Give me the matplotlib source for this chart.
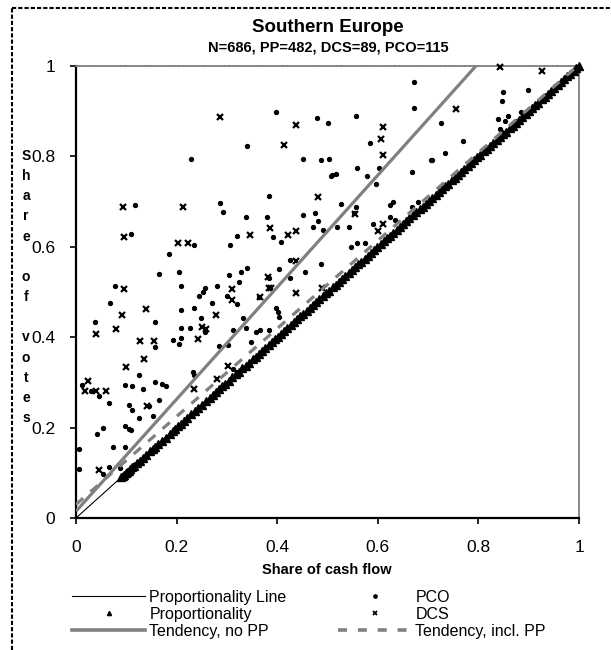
import numpy as np
import matplotlib
matplotlib.use('Agg')
import matplotlib.pyplot as plt
from matplotlib.lines import Line2D

plt.rcParams['font.family'] = ['Liberation Sans', 'DejaVu Sans']

# ---- data ----
title = 'Southern Europe'
subtitle = 'N=686, PP=482, DCS=89, PCO=115'
x_label = 'Share of cash flow'
y_label = 'Share of votes'
tick_vals = [0, 0.2, 0.4, 0.6, 0.8, 1]
tick_labels = ['0', '0.2', '0.4', '0.6', '0.8', '1']

# proportional firms (votes == cash flow)
prop_cf = [0.090, 0.093, 0.096, 0.099, 0.102, 0.105, 0.108, 0.112, 0.116, 0.121,
           0.127, 0.133, 0.140, 0.148, 0.153, 0.157, 0.163, 0.171, 0.178, 0.186,
           0.192, 0.197, 0.203, 0.208, 0.214, 0.221, 0.229, 0.236, 0.243, 0.251,
           0.258, 0.266, 0.272, 0.279, 0.285, 0.291, 0.297, 0.304, 0.311, 0.318,
           0.324, 0.331, 0.337, 0.344, 0.351, 0.357, 0.363, 0.370, 0.376, 0.383,
           0.389, 0.395, 0.401, 0.408, 0.414, 0.420, 0.427, 0.433, 0.440, 0.446,
           0.452, 0.459, 0.465, 0.472, 0.478, 0.484, 0.491, 0.497, 0.503, 0.510,
           0.516, 0.523, 0.529, 0.535, 0.542, 0.548, 0.555, 0.561, 0.567, 0.574,
           0.580, 0.587, 0.593, 0.599, 0.606, 0.612, 0.619, 0.625, 0.631, 0.638,
           0.644, 0.651, 0.657, 0.663, 0.670, 0.676, 0.683, 0.689, 0.695, 0.702,
           0.708, 0.715, 0.721, 0.727, 0.734, 0.740, 0.747, 0.753, 0.759, 0.766,
           0.772, 0.779, 0.785, 0.791, 0.798, 0.804, 0.811, 0.817, 0.823, 0.830,
           0.836, 0.843, 0.849, 0.855, 0.862, 0.868, 0.875, 0.881, 0.887, 0.894,
           0.900, 0.907, 0.913, 0.919, 0.926, 0.932, 0.939, 0.945, 0.951, 0.958,
           0.964, 0.971, 0.977, 0.983, 0.990, 0.995, 1.000]
prop_votes = prop_cf

pco_cf = [0.339, 0.229, 0.118, 0.286, 0.293, 0.337, 0.109, 0.234, 0.320, 0.307,
          0.185, 0.165, 0.205, 0.304, 0.328, 0.340, 0.325, 0.078, 0.209, 0.257,
          0.252, 0.244, 0.280, 0.300, 0.320, 0.364, 0.068, 0.209, 0.234, 0.270,
          0.248, 0.332, 0.038, 0.157, 0.209, 0.226, 0.257, 0.312, 0.337, 0.357,
          0.157, 0.193, 0.205, 0.209, 0.284, 0.348, 0.125, 0.011, 0.029, 0.046,
          0.098, 0.111, 0.157, 0.171, 0.179, 0.133, 0.066, 0.106, 0.111, 0.146,
          0.165, 0.153, 0.126, 0.232, 0.235, 0.312, 0.097, 0.106, 0.110, 0.053,
          0.041, 0.073, 0.098, 0.005, 0.005, 0.054, 0.066, 0.088, 0.671, 0.671,
          0.398, 0.556, 0.479, 0.500, 0.726, 0.584, 0.734, 0.452, 0.487, 0.503,
          0.707, 0.559, 0.603, 0.667, 0.507, 0.516, 0.579, 0.596, 0.384, 0.527,
          0.556, 0.631, 0.625, 0.667, 0.849, 0.846, 0.898, 0.838, 0.858, 0.853,
          0.842, 0.884, 0.770, 0.705, 0.552, 0.624, 0.635, 0.591, 0.680, 0.476,
          0.481, 0.452, 0.471, 0.491, 0.519, 0.542, 0.546, 0.559, 0.574, 0.487,
          0.456, 0.380, 0.392, 0.408, 0.426, 0.383, 0.404, 0.426, 0.398, 0.402,
          0.403, 0.365, 0.383, 0.320, 0.303, 0.508]
pco_votes = [0.822, 0.795, 0.692, 0.696, 0.677, 0.665, 0.629, 0.605, 0.625, 0.605,
             0.584, 0.540, 0.545, 0.538, 0.545, 0.554, 0.522, 0.513, 0.513, 0.509,
             0.500, 0.492, 0.513, 0.492, 0.473, 0.490, 0.475, 0.460, 0.464, 0.475,
             0.442, 0.442, 0.434, 0.434, 0.421, 0.421, 0.411, 0.416, 0.421, 0.412,
             0.378, 0.394, 0.384, 0.398, 0.381, 0.389, 0.316, 0.294, 0.282, 0.270,
             0.294, 0.293, 0.301, 0.296, 0.293, 0.286, 0.254, 0.249, 0.239, 0.248,
             0.261, 0.226, 0.221, 0.323, 0.316, 0.329, 0.204, 0.198, 0.195, 0.199,
             0.186, 0.158, 0.158, 0.152, 0.108, 0.097, 0.112, 0.110, 0.964, 0.906,
             0.899, 0.889, 0.886, 0.873, 0.873, 0.829, 0.807, 0.795, 0.792, 0.795,
             0.793, 0.774, 0.774, 0.766, 0.757, 0.761, 0.757, 0.739, 0.712, 0.695,
             0.687, 0.700, 0.692, 0.687, 0.943, 0.923, 0.948, 0.882, 0.890, 0.878,
             0.861, 0.899, 0.833, 0.792, 0.674, 0.667, 0.659, 0.650, 0.700, 0.674,
             0.656, 0.670, 0.643, 0.637, 0.644, 0.644, 0.600, 0.608, 0.609, 0.563,
             0.545, 0.667, 0.621, 0.611, 0.571, 0.531, 0.550, 0.530, 0.464, 0.456,
             0.444, 0.416, 0.416, 0.322, 0.383, 0.759]

dcs_cf = [0.287, 0.094, 0.212, 0.096, 0.203, 0.223, 0.346, 0.095, 0.310, 0.311,
          0.139, 0.091, 0.278, 0.039, 0.080, 0.251, 0.258, 0.127, 0.156, 0.243,
          0.135, 0.099, 0.023, 0.018, 0.040, 0.059, 0.142, 0.280, 0.302, 0.046,
          0.438, 0.610, 0.606, 0.414, 0.610, 0.482, 0.843, 0.927, 0.756, 0.554,
          0.610, 0.601, 0.489, 0.386, 0.421, 0.437, 0.438, 0.437, 0.383, 0.388,
          0.382, 0.365, 0.234]
dcs_votes = [0.888, 0.689, 0.689, 0.622, 0.609, 0.609, 0.627, 0.507, 0.507, 0.482,
             0.463, 0.449, 0.450, 0.406, 0.419, 0.423, 0.419, 0.392, 0.392, 0.397,
             0.352, 0.335, 0.304, 0.282, 0.282, 0.282, 0.248, 0.307, 0.336, 0.106,
             0.870, 0.866, 0.839, 0.826, 0.804, 0.711, 0.998, 0.990, 0.905, 0.672,
             0.650, 0.636, 0.508, 0.641, 0.626, 0.636, 0.569, 0.498, 0.508, 0.508,
             0.534, 0.490, 0.285]

# trend lines (end points)
prop_line_x = [0, 1]
prop_line_y = [0, 1]
trend_no_pp_x = [0, 0.795]
trend_no_pp_y = [0.015, 1.0]
trend_pp_x = [0, 1]
trend_pp_y = [0.03, 1.003]

W, H = 611, 650
fig = plt.figure(figsize=(W / 100, H / 100), dpi=100)
ax = fig.add_axes([76 / W, 1 - 518 / H, 503 / W, 452 / H])

gray = '#808080'
ax.plot(prop_line_x, prop_line_y, color='black', lw=0.8, zorder=2)
ax.plot(prop_cf, prop_votes, ls='none', marker='^', ms=5.5, color='black',
        mec='black', zorder=3, clip_on=False)
ax.plot(pco_cf, pco_votes, ls='none', marker='o', ms=2.8, color='black',
        zorder=3, clip_on=False)
ax.plot(dcs_cf, dcs_votes, ls='none', marker='x', ms=3.8, mew=1.6,
        color='black', zorder=3, clip_on=False)
ax.plot(trend_no_pp_x, trend_no_pp_y, color=gray, lw=2.3, zorder=4,
        solid_capstyle='butt')
ax.plot(trend_pp_x, trend_pp_y, color=gray, lw=2.3, ls=(0, (3, 3)), zorder=4)

ax.set_xlim(0, 1)
ax.set_ylim(0, 1)
ax.set_xticks(tick_vals)
ax.set_xticklabels(tick_labels)
ax.set_yticks(tick_vals)
ax.set_yticklabels(tick_labels)
ax.tick_params(axis='both', direction='out', length=4, width=1.2, labelsize=12.5)
ax.tick_params(axis='x', pad=12)
ax.tick_params(axis='y', pad=11)

for s in ['left', 'bottom']:
    ax.spines[s].set_color('black')
    ax.spines[s].set_linewidth(1.6)
ax.spines['top'].set_color(gray)
ax.spines['top'].set_linestyle((0, (1.5, 0.8)))
ax.spines['top'].set_linewidth(1.3)
ax.spines['right'].set_color(gray)
ax.spines['right'].set_linewidth(1.3)

fig.text(328 / W, 1 - 27 / H, title, ha='center', va='center',
         fontsize=13.5, fontweight='bold')
fig.text(328 / W, 1 - 48 / H, subtitle, ha='center', va='center',
         fontsize=10.5, fontweight='bold')
fig.text(327 / W, 1 - 570 / H, x_label, ha='center', va='center',
         fontsize=10.5, fontweight='bold')
stacked = '\n'.join(y_label)
fig.text(26 / W, 1 - 287 / H, stacked, ha='center', va='center',
         fontsize=10, fontweight='bold', linespacing=1.56)

# outer frame
fig.add_artist(Line2D([12 / W, 12 / W], [0, 1 - 8 / H], color='black',
                      lw=1.5, ls=(0, (2, 1))))
fig.add_artist(Line2D([12 / W, 1], [1 - 8 / H, 1 - 8 / H], color='black',
                      lw=1.5, ls=(0, (2, 1))))

handles = [
    Line2D([], [], color='black', lw=0.8),
    Line2D([], [], ls='none', marker='^', ms=3, color='black'),
    Line2D([], [], color=gray, lw=2.6),
    Line2D([], [], ls='none', marker='o', ms=2.4, color='black'),
    Line2D([], [], ls='none', marker='x', ms=3.2, mew=1.3, color='black'),
    Line2D([], [], color=gray, lw=2.6, ls=(0, (2.5, 3))),
]
labels = ['Proportionality Line', 'Proportionality', 'Tendency, no PP',
          'PCO', 'DCS', 'Tendency, incl. PP']
fig.legend(handles, labels, ncol=2, loc='upper left',
           bbox_to_anchor=(72 / W, 1 - 590 / H), frameon=False, fontsize=11.5,
           handlelength=4.6, handletextpad=0.25, labelspacing=0.12,
           columnspacing=3.2, borderpad=0, borderaxespad=0)

fig.savefig('out.png', dpi=100)
